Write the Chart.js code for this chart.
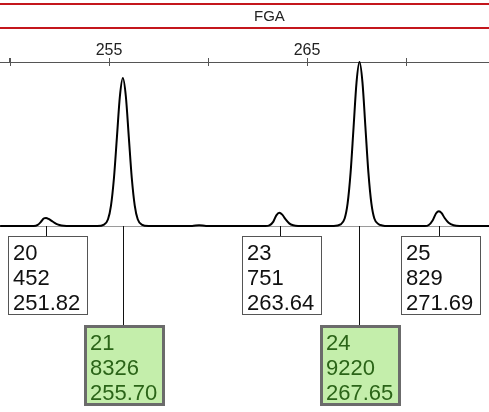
<!DOCTYPE html>
<html>
<head>
<meta charset="utf-8">
<title>FGA</title>
<script src="https://cdn.jsdelivr.net/npm/chart.js@4/dist/chart.umd.min.js"></script>
<style>
  html, body { margin: 0; padding: 0; background: #fff; }
  canvas { display: block; }
</style>
</head>
<body>
<canvas id="myChart" width="489" height="412"></canvas>
<script>
// Locus + called peaks
var locusName = 'FGA';
var locusCenter = 263.1;
var alleles = ['20', '21', '23', '24', '25'];
var sizes = [251.82, 255.70, 263.64, 267.65, 271.69];
var heights = [452, 8326, 751, 9220, 829];
var called = [false, true, false, true, false];

// Trace (size in bp, height in RFU)
var traceSize = [249.50, 251.20, 251.40, 251.55, 251.70, 251.82, 251.95, 252.10, 252.25, 252.40, 252.60, 252.85,
  254.40, 254.75, 254.95, 255.10, 255.25, 255.40, 255.55, 255.70, 255.85, 256.00, 256.15, 256.30, 256.45, 256.65, 257.00,
  259.20, 259.55, 259.90,
  262.90, 263.10, 263.30, 263.45, 263.60, 263.75, 263.90, 264.10, 264.30, 264.55,
  266.35, 266.70, 266.90, 267.05, 267.20, 267.35, 267.50, 267.65, 267.80, 267.95, 268.10, 268.25, 268.40, 268.60, 268.80, 269.10,
  270.95, 271.15, 271.35, 271.52, 271.66, 271.80, 271.95, 272.15, 272.40, 272.70, 274.20];
var traceRfu = [0, 0, 60, 220, 420, 452, 400, 290, 180, 90, 25, 0,
  0, 80, 380, 1150, 2700, 5000, 7300, 8326, 7300, 5000, 2700, 1150, 380, 80, 0,
  0, 50, 0,
  0, 40, 250, 600, 751, 640, 400, 150, 40, 0,
  0, 90, 420, 1270, 3000, 5540, 8080, 9220, 8080, 5540, 3000, 1270, 420, 120, 30, 0,
  0, 60, 330, 720, 829, 720, 450, 180, 40, 0, 0];

var xTickLabels = ['255', '265'];

var FONT = "'Liberation Sans', Arial, Helvetica, sans-serif";

var points = [];
for (var i = 0; i < traceSize.length; i++) {
  points.push({ x: traceSize[i], y: traceRfu[i] });
}

// Red locus band at the top + baseline + crossing tick marks
var locusBand = {
  id: 'locusBand',
  beforeDatasetsDraw: function(chart) {
    var ctx = chart.ctx, y0 = chart.scales.y.getPixelForValue(0);
    ctx.save();
    ctx.strokeStyle = '#9a9a9a';
    ctx.lineWidth = 1;
    ctx.beginPath();
    ctx.moveTo(0, y0 + 0.5);
    ctx.lineTo(chart.width, y0 + 0.5);
    ctx.stroke();
    ctx.restore();
  },
  afterDraw: function(chart) {
    var ctx = chart.ctx, xs = chart.scales.x;
    ctx.save();
    ctx.strokeStyle = '#c4161c';
    ctx.lineWidth = 2;
    ctx.beginPath();
    ctx.moveTo(0, 4); ctx.lineTo(chart.width, 4);
    ctx.moveTo(0, 28); ctx.lineTo(chart.width, 28);
    ctx.stroke();
    ctx.fillStyle = '#222';
    ctx.font = '15px ' + FONT;
    ctx.textAlign = 'center';
    ctx.textBaseline = 'middle';
    ctx.fillText(locusName, xs.getPixelForValue(locusCenter), 17);

    // tick marks crossing the axis line
    var ya = chart.chartArea.top;
    ctx.strokeStyle = '#555';
    ctx.lineWidth = 1;
    ctx.beginPath();
    xs.ticks.forEach(function(t) {
      var px = Math.round(xs.getPixelForValue(t.value)) + 0.5;
      ctx.moveTo(px, ya - 4);
      ctx.lineTo(px, ya + 4);
    });
    ctx.stroke();
    ctx.restore();
  }
};

// Allele label boxes hanging under each peak
var alleleBoxes = {
  id: 'alleleBoxes',
  afterDatasetsDraw: function(chart) {
    var ctx = chart.ctx, xs = chart.scales.x, ys = chart.scales.y;
    var base = Math.round(ys.getPixelForValue(0));
    ctx.save();
    for (var i = 0; i < alleles.length; i++) {
      var px = Math.round(xs.getPixelForValue(sizes[i]));
      var top = called[i] ? 325 : 236;
      var h = called[i] ? 81 : 79;
      var w = called[i] ? 81 : 80;
      var left = px - (called[i] ? 39 : 38);

      ctx.strokeStyle = '#111';
      ctx.lineWidth = 1;
      ctx.beginPath();
      ctx.moveTo(px + 0.5, base);
      ctx.lineTo(px + 0.5, top);
      ctx.stroke();

      if (called[i]) {
        ctx.fillStyle = '#c4eeab';
        ctx.fillRect(left, top, w, h);
        ctx.strokeStyle = '#6b6b6b';
        ctx.lineWidth = 3;
        ctx.strokeRect(left + 1.5, top + 1.5, w - 3, h - 3);
        ctx.fillStyle = '#2b6418';
      } else {
        ctx.fillStyle = '#fff';
        ctx.fillRect(left, top, w, h);
        ctx.strokeStyle = '#555';
        ctx.lineWidth = 1;
        ctx.strokeRect(left + 0.5, top + 0.5, w - 1, h - 1);
        ctx.fillStyle = '#111';
      }

      ctx.font = '22px ' + FONT;
      ctx.textAlign = 'left';
      ctx.textBaseline = 'alphabetic';
      var tx = left + (called[i] ? 6 : 5);
      var lines = [alleles[i], String(heights[i]), sizes[i].toFixed(2)];
      for (var k = 0; k < lines.length; k++) {
        ctx.fillText(lines[k], tx, top + 24 + k * 25 + (called[i] ? 1 : 0));
      }
    }
    ctx.restore();
  }
};

var ctx = document.getElementById('myChart').getContext('2d');

var myChart = new Chart(ctx, {
  type: 'line',
  data: {
    datasets: [{
      data: points,
      borderColor: '#000',
      borderWidth: 2,
      pointRadius: 0,
      fill: false,
      cubicInterpolationMode: 'monotone',
      clip: 6
    }]
  },
  options: {
    responsive: false,
    animation: false,
    devicePixelRatio: 1,
    layout: { padding: 0 },
    plugins: {
      legend: { display: false },
      title: { display: false },
      tooltip: { enabled: false }
    },
    scales: {
      x: {
        type: 'linear',
        position: 'top',
        min: 249.495,
        max: 274.19,
        afterFit: function(scale) { scale.height = 62; },
        border: { display: true, color: '#555', width: 1 },
        grid: { display: true, drawOnChartArea: false, drawTicks: true, tickLength: 4, color: '#555' },
        ticks: {
          stepSize: 5,
          includeBounds: false,
          autoSkip: false,
          maxRotation: 0,
          padding: -2,
          color: '#222',
          font: { family: FONT, size: 16 },
          callback: function(v) {
            var s = String(v);
            return xTickLabels.indexOf(s) !== -1 ? s : '';
          }
        }
      },
      y: {
        display: false,
        min: -10460,
        max: 9225
      }
    }
  },
  plugins: [locusBand, alleleBoxes]
});
</script>
</body>
</html>
